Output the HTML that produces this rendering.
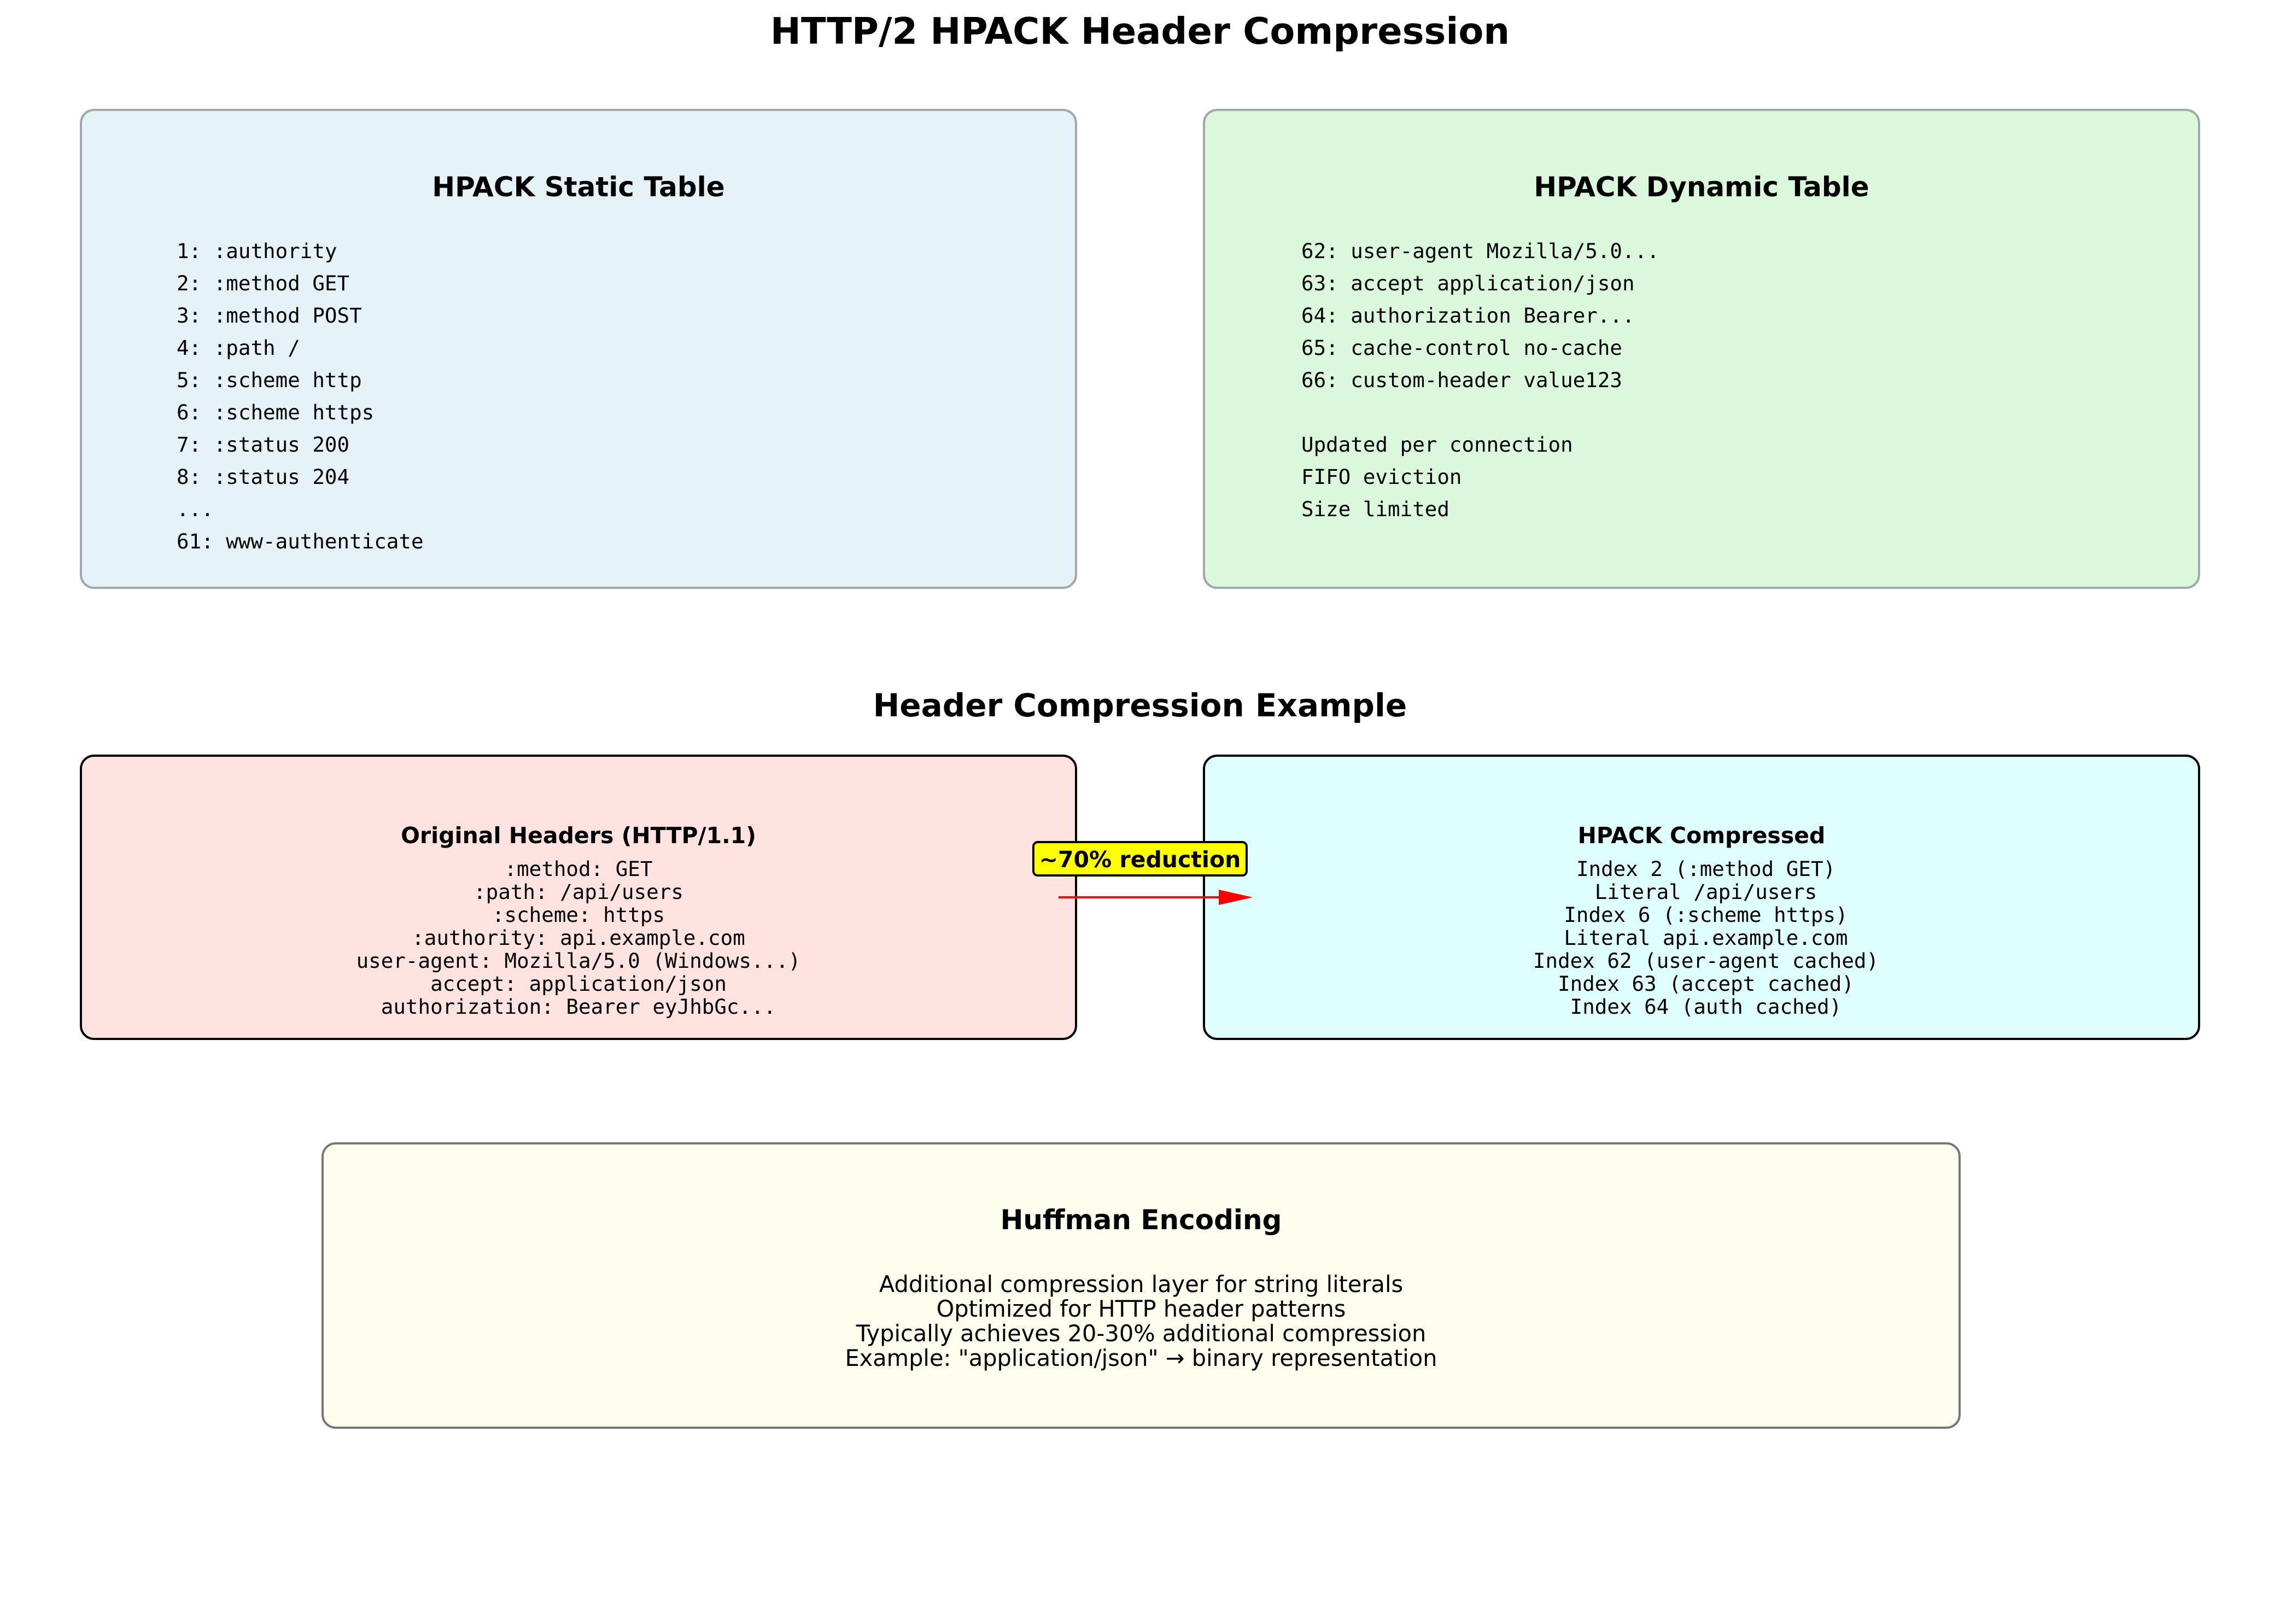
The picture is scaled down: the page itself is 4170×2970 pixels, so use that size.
<!DOCTYPE html>
<html><head><meta charset="utf-8"><style>
html,body{margin:0;padding:0;background:#fff;}
svg{display:block;}
.t{font-family:"DejaVu Sans","Liberation Sans",sans-serif;font-weight:bold;fill:#000;}
.m{font-family:"DejaVu Sans Mono","Liberation Mono",monospace;font-size:37.5px;fill:#000;}
.s{font-family:"DejaVu Sans","Liberation Sans",sans-serif;font-size:41.5px;fill:#000;}
</style></head><body>
<svg width="4170" height="2970" viewBox="0 0 4170 2970" xmlns="http://www.w3.org/2000/svg">
<text class="t" x="2085" y="80" font-size="67" text-anchor="middle">HTTP/2 HPACK Header Compression</text>

<rect x="148" y="201" width="1820" height="874" rx="24" fill="#e5f2f7" stroke="#a0a8a8" stroke-width="4"/>
<text class="t" x="1058" y="359" font-size="50" text-anchor="middle">HPACK Static Table</text>
<g class="m">
<text x="323" y="472">1: :authority</text>
<text x="323" y="531">2: :method GET</text>
<text x="323" y="590">3: :method POST</text>
<text x="323" y="649">4: :path /</text>
<text x="323" y="708">5: :scheme http</text>
<text x="323" y="767">6: :scheme https</text>
<text x="323" y="826">7: :status 200</text>
<text x="323" y="885">8: :status 204</text>
<text x="323" y="944">...</text>
<text x="323" y="1003">61: www-authenticate</text>
</g>

<rect x="2202" y="201" width="1820" height="874" rx="24" fill="#dcf8dc" stroke="#a0a8a8" stroke-width="4"/>
<text class="t" x="3112" y="359" font-size="50" text-anchor="middle">HPACK Dynamic Table</text>
<g class="m">
<text x="2380" y="472">62: user-agent Mozilla/5.0...</text>
<text x="2380" y="531">63: accept application/json</text>
<text x="2380" y="590">64: authorization Bearer...</text>
<text x="2380" y="649">65: cache-control no-cache</text>
<text x="2380" y="708">66: custom-header value123</text>
<text x="2380" y="826">Updated per connection</text>
<text x="2380" y="885">FIFO eviction</text>
<text x="2380" y="944">Size limited</text>
</g>

<text class="t" x="2085" y="1310" font-size="58" text-anchor="middle">Header Compression Example</text>

<rect x="148" y="1382" width="1820" height="518" rx="24" fill="#ffe3e1" stroke="#000" stroke-width="4"/>
<text class="t" x="1058" y="1542" font-size="41" text-anchor="middle">Original Headers (HTTP/1.1)</text>
<g class="m" text-anchor="middle">
<text x="1058" y="1602">:method: GET</text>
<text x="1058" y="1644">:path: /api/users</text>
<text x="1058" y="1686">:scheme: https</text>
<text x="1058" y="1728">:authority: api.example.com</text>
<text x="1058" y="1770">user-agent: Mozilla/5.0 (Windows...)</text>
<text x="1058" y="1812">accept: application/json</text>
<text x="1058" y="1854">authorization: Bearer eyJhbGc...</text>
</g>

<rect x="2202" y="1382" width="1820" height="518" rx="24" fill="#dfffff" stroke="#000" stroke-width="4"/>
<text class="t" x="3112" y="1542" font-size="41" text-anchor="middle">HPACK Compressed</text>
<g class="m" text-anchor="middle">
<text x="3120" y="1602">Index 2 (:method GET)</text>
<text x="3120" y="1644">Literal /api/users</text>
<text x="3120" y="1686">Index 6 (:scheme https)</text>
<text x="3120" y="1728">Literal api.example.com</text>
<text x="3120" y="1770">Index 62 (user-agent cached)</text>
<text x="3120" y="1812">Index 63 (accept cached)</text>
<text x="3120" y="1854">Index 64 (auth cached)</text>
</g>

<line x1="1936" y1="1641" x2="2232" y2="1641" stroke="#ff0000" stroke-width="4"/>
<polygon points="2229,1627 2291,1641 2229,1655" fill="#ff0000"/>
<rect x="1890" y="1540" width="390" height="61" rx="8" fill="#ffff00" stroke="#000" stroke-width="4"/>
<text class="t" x="2085" y="1586" font-size="41" text-anchor="middle">~70% reduction</text>

<rect x="590" y="2091" width="2994" height="520" rx="24" fill="#fdfeee" stroke="#777" stroke-width="4"/>
<text class="t" x="2087" y="2248" font-size="50" text-anchor="middle">Huffman Encoding</text>
<g class="s" text-anchor="middle">
<text x="2087" y="2363">Additional compression layer for string literals</text>
<text x="2087" y="2408">Optimized for HTTP header patterns</text>
<text x="2087" y="2453">Typically achieves 20-30% additional compression</text>
<text x="2087" y="2498">Example: "application/json" → binary representation</text>
</g>
</svg>
</body></html>
